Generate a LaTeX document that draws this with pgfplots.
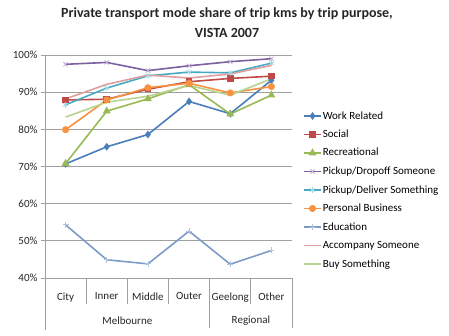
\documentclass[border=0pt]{standalone}
\usepackage{fontspec}
\setmainfont{Carlito}
\usepackage{pgfplots}
\pgfplotsset{compat=1.18}
\definecolor{cWork}{HTML}{4A7EBB}
\definecolor{cSocial}{HTML}{BE4B48}
\definecolor{cRec}{HTML}{98B954}
\definecolor{cDrop}{HTML}{7D60A0}
\definecolor{cDeliver}{HTML}{46AAC5}
\definecolor{cPers}{HTML}{F69240}
\definecolor{cEdu}{HTML}{7E9BC8}
\definecolor{cAcc}{HTML}{DDA09E}
\definecolor{cBuy}{HTML}{B9D38E}
\definecolor{cGrid}{HTML}{A0A0A0}
\begin{document}
\begin{tikzpicture}[x=1pt,y=1pt]
\useasboundingbox (0,0) rectangle (449,336);
\begin{axis}[
  at={(45pt,58pt)}, anchor=south west,
  scale only axis, width=247pt, height=223pt,
  xmin=-0.5, xmax=5.5, ymin=40, ymax=100,
  ytick={40,50,...,100},
  yticklabel={\pgfmathprintnumber{\tick}\%},
  xtick={0,...,5}, xticklabels={City,Inner,Middle,Outer,Geelong,Other},
  x tick style={draw=none},
  y tick style={draw=cGrid, line width=0.8pt},
  tick align=outside, major tick length=4pt,
  ymajorgrids, grid style={cGrid, line width=0.8pt},
  axis x line*=bottom, axis y line*=left,
  axis line style={cGrid, line width=0.8pt, -},
  tick label style={font=\fontsize{11}{12}\selectfont, color=black!85},
  xticklabel style={yshift=-7pt},
  /pgf/number format/assume math mode=true,
  clip=false,
  every axis plot/.append style={line width=1.6pt},
  legend cell align=left,
  legend style={at={(1.0445,0.3946)}, anchor=west, draw=none, fill=none,
    font=\fontsize{11}{12}\selectfont, inner sep=0pt, row sep=6.5pt,
    nodes={inner sep=1pt, text height=8pt, text depth=2pt}},
]
\addplot[color=cWork, mark=diamond*, mark size=2.6pt] coordinates {(0,70.7)(1,75.3)(2,78.6)(3,87.5)(4,84.2)(5,93.2)};
\addlegendentry{Work Related}
\addplot[color=cSocial, mark=square*, mark size=2.5pt] coordinates {(0,87.9)(1,88.1)(2,90.8)(3,92.8)(4,93.7)(5,94.3)};
\addlegendentry{Social}
\addplot[color=cRec, mark=triangle*, mark size=3pt] coordinates {(0,70.8)(1,84.9)(2,88.2)(3,92.0)(4,84.1)(5,89.2)};
\addlegendentry{Recreational}
\addplot[color=cDrop, mark=x, mark size=3pt, mark options={color=cDrop!50, line width=0.8pt}] coordinates {(0,97.5)(1,98.0)(2,95.8)(3,97.1)(4,98.2)(5,99.0)};
\addlegendentry{Pickup/Dropoff Someone}
\addplot[color=cDeliver, mark=asterisk, mark size=3pt, mark options={color=cDeliver!50, line width=0.8pt}] coordinates {(0,86.6)(1,91.1)(2,94.4)(3,95.4)(4,95.2)(5,97.8)};
\addlegendentry{Pickup/Deliver Something}
\addplot[color=cPers, mark=*, mark size=2.7pt] coordinates {(0,79.9)(1,87.9)(2,91.2)(3,92.4)(4,89.8)(5,91.5)};
\addlegendentry{Personal Business}
\addplot[color=cEdu, mark=+, mark size=3pt, mark options={color=cEdu!60, line width=0.8pt}] coordinates {(0,54.3)(1,44.9)(2,43.8)(3,52.6)(4,43.7)(5,47.4)};
\addlegendentry{Education}
\addplot[color=cAcc, no marks] coordinates {(0,88.2)(1,92.1)(2,94.6)(3,93.8)(4,94.9)(5,97.2)};
\addlegendentry{Accompany Someone}
\addplot[color=cBuy, no marks] coordinates {(0,83.3)(1,87.3)(2,88.9)(3,91.8)(4,89.2)(5,93.6)};
\addlegendentry{Buy Something}
\end{axis}
% category separators
\begin{scope}[cGrid, line width=0.8pt]
\draw (45,58) -- (45,6);
\foreach \xx in {86.2,127.3,168.5,250.8} \draw (\xx,58) -- (\xx,32);
\draw (209.7,58) -- (209.7,8);
\draw (292,58) -- (292,8);
\end{scope}
\node[font=\fontsize{11}{12}\selectfont, text=black!85] at (127.4,15) {Melbourne};
\node[font=\fontsize{11}{12}\selectfont, text=black!85] at (250.9,15) {Regional};
\node[font=\bfseries\fontsize{14}{16}\selectfont, text=black!85] at (227,322) {Private transport mode share of trip kms by trip purpose,};
\node[font=\bfseries\fontsize{14}{16}\selectfont, text=black!85] at (227,303) {VISTA 2007};
\end{tikzpicture}
\end{document}
